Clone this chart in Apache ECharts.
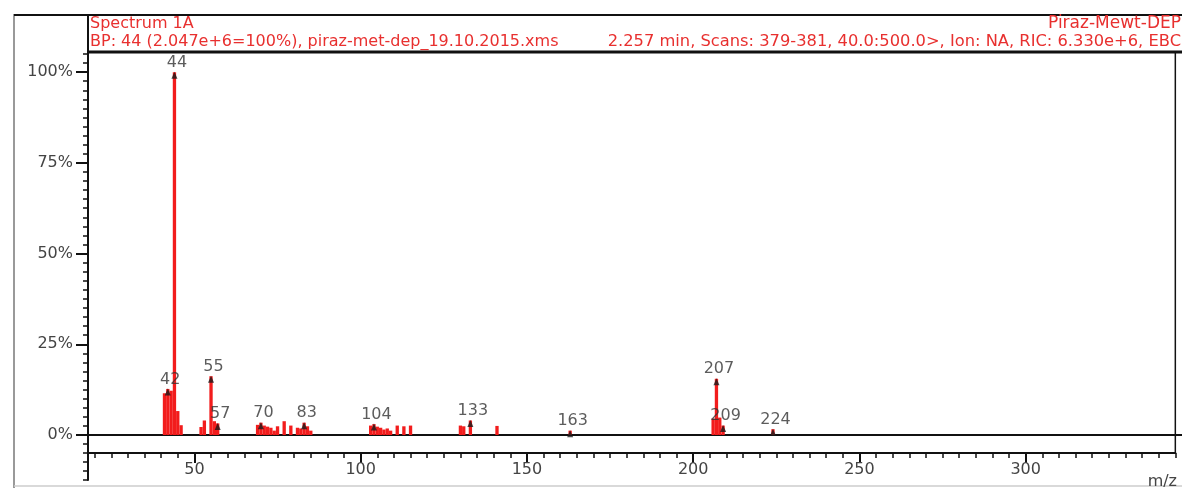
<!DOCTYPE html>
<html><head><meta charset="utf-8">
<script src="https://cdn.jsdelivr.net/npm/echarts@6/dist/echarts.min.js"></script>
<style>html,body{margin:0;padding:0;background:#fff}#c{width:1182px;height:488px}</style>
</head><body><div id="c"></div>
<script>
// ---------------- data ----------------
const mz = [41,42,43,44,45,46, 52,53,55,56,57,
  69,70,71,72,73,74,75,77,79,81,82,83,84,85,
  103,104,105,106,107,108,109,111,113,115,
  130,131,133,141, 163, 206,207,208,209, 224];
const intensity = [11.5,12.7,12.2,100,6.6,2.7, 2.2,4.0,16.2,3.8,3.2,
  2.8,3.4,2.6,2.3,2.0,1.2,2.4,3.8,2.6,2.0,1.8,3.4,2.4,1.2,
  2.6,3.0,2.3,2.0,1.5,1.8,1.2,2.6,2.4,2.6,
  2.6,2.4,4.0,2.5, 1.2, 4.5,15.5,4.8,2.6, 1.6];
const labeledMz = [42,44,55,57,70,83,104,133,163,207,209,224];
const yTickValues = [0,25,50,75,100];
const yTickLabels = ['0%','25%','50%','75%','100%'];
const xTickValues = [50,100,150,200,250,300];
const xTickLabels = ['50','100','150','200','250','300'];
const headerLeft = ['Spectrum 1A', 'BP: 44 (2.047e+6=100%), piraz-met-dep_19.10.2015.xms'];
const headerRight = ['Piraz-Mewt-DEP', '2.257 min, Scans: 379-381, 40.0:500.0>, Ion: NA, RIC: 6.330e+6, EBC'];
const xName = 'm/z';

// ---------------- layout ----------------
const W = 1182, H = 488;
const PX_MZ = 3.325, X_ORIGIN = 28.2;      // pixel of m/z = 0
const X_MIN = 18, X_MAX = 345;
const Y_ZERO = 435, PX_PCT = 3.6286, Y_MAX = 105;
const X_AXIS_Y = 453, AXIS_END_Y = 480;
const xpx = v => X_ORIGIN + v * PX_MZ;
const rightOf = v => W - xpx(v);
const FONT = 'DejaVu Sans';
const RED = '#f21c1c';
const HEAD = '#e8302f';

const pairs = mz.map((m, i) => [m, intensity[i]]);
const labeled = labeledMz.map(m => [m, intensity[mz.indexOf(m)]]);

const gridA = {left: 88, right: rightOf(X_MAX), top: Y_ZERO - Y_MAX * PX_PCT, bottom: H - Y_ZERO};
const gridM = {left: 88, right: rightOf(X_MAX), top: Y_ZERO - Y_MAX * PX_PCT, bottom: H - Y_ZERO};
const gridB = {left: xpx(20), right: rightOf(X_MAX), top: 440, bottom: H - X_AXIS_Y};
const gridD = {left: 88, right: rightOf(X_MAX), top: Y_ZERO, bottom: H - X_AXIS_Y};
const gridE = {left: 88, right: rightOf(X_MAX), top: X_AXIS_Y, bottom: H - AXIS_END_Y};

const black = {color: '#111', width: 2};
const hid = {show: false};
const headStyle = {fontFamily: FONT, fontSize: 16, fontWeight: 'normal', color: HEAD};
const minorTick = {show: true, length: 5, lineStyle: {color: '#111', width: 1.5}};

const option = {
  animation: false,
  backgroundColor: '#fff',
  title: [
    {text: headerLeft[0], left: 90, top: 16, padding: 0, textStyle: headStyle},
    {text: headerLeft[1], left: 90, top: 34, padding: 0, textStyle: headStyle}
  ],
  grid: [gridA, gridM, gridB, gridD, gridE],
  xAxis: [
    {gridIndex: 0, type: 'value', min: X_MIN, max: X_MAX, position: 'bottom',
     axisLine: {onZero: false, lineStyle: black}, axisTick: hid, axisLabel: hid, splitLine: hid},
    {gridIndex: 1, type: 'value', min: X_MIN, max: X_MAX, show: false},
    {gridIndex: 2, type: 'value', min: 20, max: X_MAX, interval: 5, position: 'bottom',
     axisLine: hid, axisTick: minorTick, axisLabel: hid, splitLine: hid},
    {gridIndex: 3, type: 'value', min: X_MIN, max: X_MAX, position: 'bottom',
     axisLine: {onZero: false, lineStyle: black},
     axisTick: {show: true, customValues: xTickValues, length: 10, lineStyle: {color: '#111', width: 2}},
     axisLabel: {show: true, customValues: xTickValues, margin: 9, fontFamily: FONT, fontSize: 16, color: '#444',
       formatter: v => xTickLabels[xTickValues.indexOf(v)] || ''},
     splitLine: hid},
    {gridIndex: 4, type: 'value', min: X_MIN, max: X_MAX, show: false}
  ],
  yAxis: [
    {gridIndex: 0, type: 'value', min: 0, max: Y_MAX, interval: 2.5,
     axisLine: {show: true, lineStyle: black}, axisTick: minorTick, axisLabel: hid, splitLine: hid},
    {gridIndex: 1, type: 'value', min: 0, max: Y_MAX,
     axisLine: hid,
     axisTick: {show: true, customValues: yTickValues, length: 12, lineStyle: {color: '#111', width: 2}},
     axisLabel: {show: true, customValues: yTickValues, margin: 15, fontFamily: FONT, fontSize: 16, color: '#444',
       formatter: v => yTickLabels[yTickValues.indexOf(v)] || ''},
     splitLine: hid},
    {gridIndex: 2, type: 'value', show: false},
    {gridIndex: 3, type: 'value', min: 0, max: 2, interval: 1,
     axisLine: {show: true, lineStyle: black}, axisTick: minorTick, axisLabel: hid, splitLine: hid},
    {gridIndex: 4, type: 'value', min: -3, max: 0, interval: 1,
     axisLine: {show: true, lineStyle: black}, axisTick: minorTick, axisLabel: hid, splitLine: hid}
  ],
  graphic: [
    {type: 'line', shape: {x1: 14, y1: 14, x2: 14, y2: H}, style: {stroke: '#999', lineWidth: 2}, silent: true},
    {type: 'line', shape: {x1: 14, y1: 15, x2: W, y2: 15}, style: {stroke: '#111', lineWidth: 2}, silent: true},
    {type: 'line', shape: {x1: 88, y1: 52, x2: W, y2: 52}, style: {stroke: '#111', lineWidth: 3}, silent: true},
    {type: 'line', shape: {x1: 88, y1: 15, x2: 88, y2: 55}, style: {stroke: '#111', lineWidth: 2}, silent: true},
    {type: 'line', shape: {x1: xpx(X_MAX), y1: 52, x2: xpx(X_MAX), y2: X_AXIS_Y}, style: {stroke: '#111', lineWidth: 1.5}, silent: true},
    {type: 'line', shape: {x1: xpx(X_MAX), y1: Y_ZERO, x2: W, y2: Y_ZERO}, style: {stroke: '#111', lineWidth: 2}, silent: true},
    {type: 'line', shape: {x1: 14, y1: H - 2, x2: W, y2: H - 2}, style: {stroke: '#ccc', lineWidth: 1.5}, silent: true},
    {type: 'text', x: W - 1, y: 15, silent: true,
     style: {text: headerRight[0], font: '17px ' + FONT, fill: HEAD, align: 'right', verticalAlign: 'top'}},
    {type: 'text', x: W - 1, y: 34, silent: true,
     style: {text: headerRight[1], font: '16.3px ' + FONT, fill: HEAD, align: 'right', verticalAlign: 'top'}},
    {type: 'text', right: 5, top: 474, style: {text: xName, font: '16px ' + FONT, fill: '#444'}, silent: true}
  ],
  series: [
    {type: 'bar', xAxisIndex: 0, yAxisIndex: 0, data: pairs, barWidth: PX_MZ,
     itemStyle: {color: RED}, z: 2},
    {type: 'scatter', xAxisIndex: 0, yAxisIndex: 0, data: labeled,
     symbol: 'triangle', symbolSize: [6, 7], symbolOffset: [0, 3],
     itemStyle: {color: '#1a1a1a'}, z: 3,
     label: {show: true, position: 'top', distance: 1, offset: [2.5, 0],
       fontFamily: FONT, fontSize: 16, color: '#333', formatter: p => String(p.value[0])}}
  ]
};
const chart = echarts.init(document.getElementById('c'), null, {renderer: 'canvas'});
chart.setOption(option);
</script></body></html>
